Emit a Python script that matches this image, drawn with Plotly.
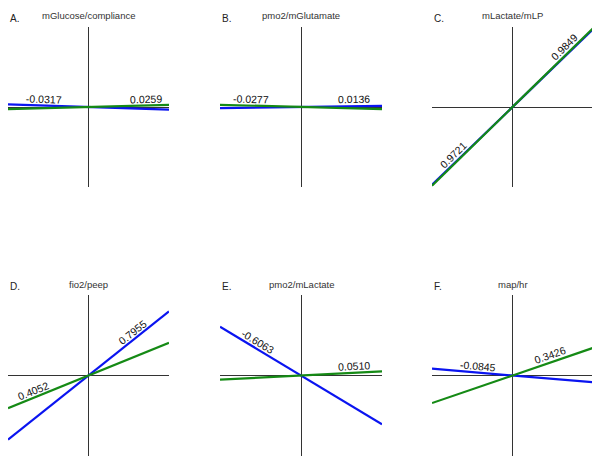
import math

import plotly.graph_objects as go

# panel data: titles, letters and the two slopes (blue, green)
letters = ["A.", "B.", "C.", "D.", "E.", "F."]
titles = ["mGlucose/compliance", "pmo2/mGlutamate", "mLactate/mLP",
          "fio2/peep", "pmo2/mLactate", "map/hr"]
blue_slopes = [-0.0317, 0.0136, 0.9721, 0.7955, -0.6063, -0.0845]
green_slopes = [0.0259, -0.0277, 0.9849, 0.4052, 0.0510, 0.3426]
x_ends = [-1, 1]

# which line each label sits on ("b"/"g") and where along it
left_label = ["b", "g", "b", "g", "b", "b"]
right_label = ["g", "b", "g", "b", "g", "g"]
left_pos = [-0.56, -0.62, -0.68, -0.66, -0.57, -0.44]
right_pos = [0.72, 0.66, 0.70, 0.60, 0.66, 0.49]

blue = "#0a14f0"
green = "#158a15"

# page body has an 8px margin, so the figure is placed at (8, 8)
W, H, OFF = 592, 453, 8


def px_x(v):
    return (v - OFF) / W


def px_y(v):
    return 1 - (v - OFF) / H


col_dom = [[px_x(8), px_x(169)], [px_x(220), px_x(382)], [px_x(432), px_x(593)]]
row_dom = [[px_y(187), px_y(27)], [px_y(456), px_y(295)]]

fig = go.Figure()

annotations = []
for i in range(6):
    r, c = divmod(i, 3)
    n = "" if i == 0 else str(i + 1)
    xa, ya = "x" + n, "y" + n
    axis_style = dict(range=[-1, 1], showgrid=False, showticklabels=False, ticks="",
                      zeroline=True, zerolinecolor="#333333", zerolinewidth=1,
                      showline=False, fixedrange=True)
    fig.update_layout(**{
        "xaxis" + n: dict(domain=col_dom[c], anchor=ya, **axis_style),
        "yaxis" + n: dict(domain=row_dom[r], anchor=xa, **axis_style),
    })

    for s, col in [(blue_slopes[i], blue), (green_slopes[i], green)]:
        fig.add_trace(go.Scatter(x=x_ends, y=[s * v for v in x_ends], mode="lines",
                                 line=dict(color=col, width=2.2), xaxis=xa, yaxis=ya,
                                 showlegend=False, hoverinfo="skip", cliponaxis=False))

    for which, pos in [(left_label[i], left_pos[i]), (right_label[i], right_pos[i])]:
        s = blue_slopes[i] if which == "b" else green_slopes[i]
        th = math.atan(s)
        annotations.append(dict(
            x=pos, y=s * pos, xref=xa, yref=ya, text="%.4f" % s, showarrow=False,
            textangle=-math.degrees(th), xshift=-7 * math.sin(th), yshift=7 * math.cos(th),
            font=dict(family="Liberation Sans, Arial", size=10.5, color="#111111")))

    # panel title and letter
    top_px = 16 if r == 0 else 284
    annotations.append(dict(
        x=sum(col_dom[c]) / 2, y=px_y(top_px), xref="paper", yref="paper",
        text=titles[i], showarrow=False, xanchor="center", yanchor="middle",
        font=dict(family="Liberation Sans, Arial", size=9.5, color="#333333")))
    annotations.append(dict(
        x=col_dom[c][0], y=px_y(top_px + 2), xref="paper", yref="paper",
        text=letters[i], showarrow=False, xanchor="left", yanchor="middle",
        font=dict(family="Liberation Sans, Arial", size=10, color="#222222")))

fig.update_layout(
    width=W, height=H,
    margin=dict(l=0, r=0, t=0, b=0),
    paper_bgcolor="white", plot_bgcolor="white",
    annotations=annotations,
)

fig.write_html("out.html")
